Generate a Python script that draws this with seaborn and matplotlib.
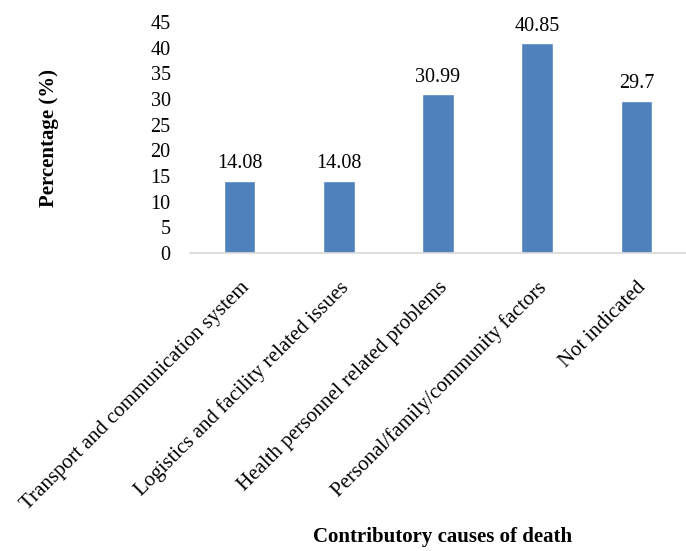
import matplotlib
matplotlib.use("Agg")
import matplotlib.pyplot as plt
import seaborn as sns
import pandas as pd

categories = ["Transport and communication system",
              "Logistics and facility related issues",
              "Health personnel related problems",
              "Personal/family/community factors",
              "Not indicated"]
values = [14.08, 14.08, 30.99, 40.85, 29.7]
labels = ["14.08", "14.08", "30.99", "40.85", "29.7"]
yticks = [0, 5, 10, 15, 20, 25, 30, 35, 40, 45]

sns.set_theme(style="white")
plt.rcParams['font.family'] = ['Liberation Serif', 'DejaVu Serif']

df = pd.DataFrame({"cat": categories, "val": values})
fig = plt.figure(figsize=(6.86, 5.51), dpi=100)
ax = fig.add_axes([0.277, 0.541, 0.723, 0.419])
sns.barplot(data=df, x="cat", y="val", color="#4F81BD", saturation=1, width=0.32, ax=ax)
for p, lab in zip(ax.patches, labels):
    ax.text(p.get_x() + p.get_width() / 2, p.get_height() + 1.4, lab,
            ha="center", va="bottom", fontsize=14.5, color="#000000")
ax.set_ylim(0, 45)
ax.set_yticks(yticks)
ax.set_yticklabels([str(t) for t in yticks], fontsize=14.5, color="#000000")
ax.set_xlim(-0.5, 4.5)
ax.set_xticks(range(len(categories)))
ax.set_xticklabels(categories, rotation=45, ha="right", rotation_mode="anchor",
                   fontsize=15, color="#000000")
ax.tick_params(axis="x", pad=18, length=0)
ax.tick_params(axis="y", pad=14, length=0)
for s in ["left", "top", "right"]:
    ax.spines[s].set_visible(False)
ax.spines["bottom"].set_color("#D9D9D9")
ax.spines["bottom"].set_linewidth(1.2)
ax.set_xlabel("")
ax.set_ylabel("")
fig.text(0.071, 0.75, "Percentage (%)", rotation=90, ha="center", va="center",
         fontsize=15, fontweight="bold", color="#000000")
fig.text(0.645, 0.025, "Contributory causes of death", ha="center", va="center",
         fontsize=15, fontweight="bold", color="#000000")
fig.savefig("out.png", dpi=100)
